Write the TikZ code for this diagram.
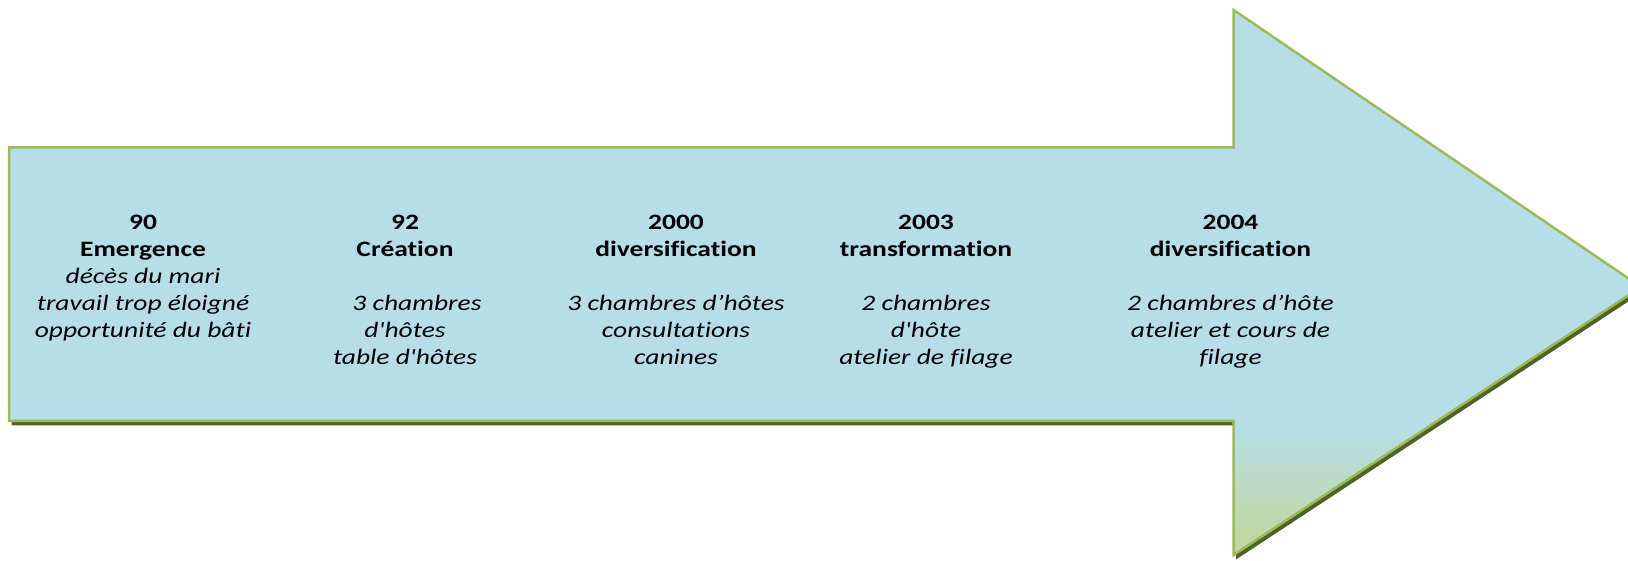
\documentclass[tikz,border=0pt]{standalone}
\usepackage{fontspec}
\setmainfont{Carlito}[Ligatures={TeXOff,NoCommon}, FakeStretch=1.25]
\definecolor{arrowfill}{HTML}{B7DDE8}
\definecolor{arrowline}{HTML}{9BBB59}
\definecolor{arrowshadow}{HTML}{4F6228}
\definecolor{arrowgreen}{HTML}{C3D69B}
\tikzset{
  stage/.style={anchor=north, inner sep=0pt, align=center, text=black,
    font=\fontsize{22}{27}\selectfont},
  sh/.style={shift={(2.5,-4.5)}},
}
\begin{document}
\begin{tikzpicture}[x=1pt,y=1pt]
\useasboundingbox (0,0) rectangle (1628,560);
% outline points
\coordinate (A) at (9,412.5);
\coordinate (B) at (1233.5,412.5);
\coordinate (C) at (1233.5,550);
\coordinate (T) at (1641,273);
\coordinate (D) at (1233.5,5);
\coordinate (E) at (1233.5,139);
\coordinate (F) at (9,139);
% shadow
\fill[arrowshadow] ([sh]A) -- ([sh]B) -- ([sh]C) -- ([sh]T) -- ([sh]D) -- ([sh]E) -- ([sh]F) -- cycle;
% body
\fill[arrowfill] (A) -- (B) -- (C) -- (T) -- (D) -- (E) -- (F) -- cycle;
\begin{scope}
  \clip (A) -- (B) -- (C) -- (T) -- (D) -- (E) -- (F) -- cycle;
  \shade[top color=arrowfill, bottom color=arrowgreen] (1200,135) rectangle (1650,4);
\end{scope}
\draw[arrowline, line width=2.5pt, line join=miter] (A) -- (B) -- (C) -- (T) -- (D) -- (E) -- (F) -- cycle;
% texts
\node[stage] (s1) at (143,345.5) {\bfseries 90\\ \bfseries Emergence\\ \itshape décès du mari\\ \itshape travail trop éloigné\\ \itshape opportunité du bâti};
\node[stage] (s2) at (405,345.5) {\bfseries 92\\ \bfseries Création\\[27pt] \itshape \hspace*{24pt}3 chambres\\ \itshape d'hôtes\\ \itshape table d'hôtes};
\node[stage] (s3) at (676,345.5) {\bfseries 2000\\ \bfseries diversification\\[27pt] \itshape 3 chambres d’hôtes\\ \itshape consultations\\ \itshape canines};
\node[stage] (s4) at (926,345.5) {\bfseries 2003\\ \bfseries transformation\\[27pt] \itshape 2 chambres\\ \itshape d'hôte\\ \itshape atelier de filage};
\node[stage] (s5) at (1230.5,345.5) {\bfseries 2004\\ \bfseries diversification\\[27pt] \itshape 2 chambres d’hôte\\ \itshape atelier et cours de\\ \itshape filage};
\end{tikzpicture}
\end{document}
